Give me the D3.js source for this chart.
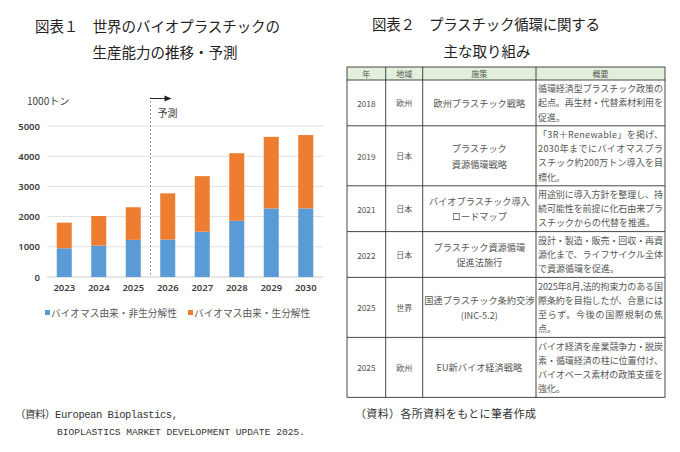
<!DOCTYPE html>
<html><head><meta charset="utf-8">
<script src="https://cdn.jsdelivr.net/npm/d3@7"></script>
<style>body{margin:0;background:#fff} svg{display:block}</style>
</head><body>
<svg id="c" width="680" height="452"></svg>
<script>
// ---- Chart data ----
const years = ["2023","2024","2025","2026","2027","2028","2029","2030"];
const nonBiodegradable = [950,1040,1230,1240,1500,1860,2270,2270];
const biodegradable = [850,980,1080,1530,1840,2240,2370,2430];
const yTicks = [0,1000,2000,3000,4000,5000];
const seriesNames = ["バイオマス由来・非生分解性","バイオマス由来・生分解性"];
const seriesColors = ["#5b9bd5","#ed7d31"];
const forecastStart = "2026";
const unitLabel = "1000トン";
const forecastLabel = "予測";

// ---- Table data ----
const tableHeaders = ["年","地域","施策","概要"];
const tableYears = ["2018","2019","2021","2022","2025","2025"];
const tableRegions = ["欧州","日本","日本","日本","世界","欧州"];
const tablePolicies = [
  ["欧州プラスチック戦略"],
  ["プラスチック","資源循環戦略"],
  ["バイオプラスチック導入","ロードマップ"],
  ["プラスチック資源循環","促進法施行"],
  ["国連プラスチック条約交渉","(INC-5.2)"],
  ["EU新バイオ経済戦略"]
];
const tableSummaries = [
  ["循環経済型プラスチック政策の","起点。再生材・代替素材利用を","促進。"],
  ["「3R＋Renewable」を掲げ、","2030年までにバイオマスプラ","スチック約200万トン導入を目","標化。"],
  ["用途別に導入方針を整理し、持","続可能性を前提に化石由来プラ","スチックからの代替を推進。"],
  ["設計・製造・販売・回収・再資","源化まで、ライフサイクル全体","で資源循環を促進。"],
  ["2025年8月,法的拘束力のある国","際条約を目指したが、合意には","至らず。今後の国際規制の焦","点。"],
  ["バイオ経済を産業競争力・脱炭","素・循環経済の柱に位置付け、","バイオベース素材の政策支援を","強化。"]
];

const titleLeft = ["図表１　世界のバイオプラスチックの","生産能力の推移・予測"];
const titleRight = ["図表２　プラスチック循環に関する","主な取り組み"];
const sourceLeft = ["（資料）European Bioplastics,","BIOPLASTICS MARKET DEVELOPMENT UPDATE 2025."];
const sourceRight = "（資料）各所資料をもとに筆者作成";

const svg = d3.select("#c");
const JP = "'Noto Sans CJK JP', 'Noto Sans', sans-serif";
const MONO = "'Liberation Mono', 'Noto Sans CJK JP', monospace";

// ---- Titles ----
svg.append("text").attr("x",35).attr("y",32).text(titleLeft[0])
  .attr("font-family",JP).attr("font-size",14.5).attr("fill","#222").attr("textLength",245);
svg.append("text").attr("x",165).attr("y",58).attr("text-anchor","middle").text(titleLeft[1])
  .attr("font-family",JP).attr("font-size",14.5).attr("fill","#222");
svg.append("text").attr("x",372).attr("y",30).text(titleRight[0])
  .attr("font-family",JP).attr("font-size",14.5).attr("fill","#222").attr("textLength",228);
svg.append("text").attr("x",487).attr("y",57).attr("text-anchor","middle").text(titleRight[1])
  .attr("font-family",JP).attr("font-size",14.5).attr("fill","#222");

// ---- Chart ----
const x = d3.scaleBand().domain(years).range([47,323]).paddingInner(0.565).paddingOuter(0.2825);
const y = d3.scaleLinear().domain([0,5000]).range([277,126]);

const g = svg.append("g");
g.selectAll("line.grid").data(yTicks).join("line")
  .attr("x1",47).attr("x2",323)
  .attr("y1",d=>y(d)).attr("y2",d=>y(d))
  .attr("stroke",d=>d===0?"#bfbfbf":"#d9d9d9").attr("stroke-width",0.8);

const yAxis = d3.axisLeft(y).tickValues(yTicks).tickSize(0).tickPadding(0).tickFormat(d3.format("d"));
const ya = g.append("g").attr("transform","translate(40,0)").call(yAxis);
ya.select(".domain").remove();
ya.selectAll("text").attr("font-family","'Noto Sans', sans-serif").attr("font-size",9.5)
  .attr("font-weight",600).attr("fill","#404040");

const xAxis = d3.axisBottom(x).tickSize(0).tickPadding(0);
const xa = g.append("g").attr("transform","translate(0,284)").call(xAxis);
xa.select(".domain").remove();
xa.selectAll("text").attr("font-family","'Noto Sans', sans-serif").attr("font-size",9.5)
  .attr("font-weight",600).attr("fill","#404040");

const rows = years.map((yr,i)=>({year:yr, a:nonBiodegradable[i], b:biodegradable[i]}));
const stack = d3.stack().keys(["a","b"])(rows);
g.selectAll("g.series").data(stack).join("g").attr("fill",(d,i)=>seriesColors[i])
  .selectAll("rect").data(d=>d).join("rect")
  .attr("x",d=>x(d.data.year)).attr("width",x.bandwidth())
  .attr("y",d=>y(d[1])).attr("height",d=>y(d[0])-y(d[1]));

// forecast marker
const fx = x(forecastStart) - (x.step()-x.bandwidth())/2;
g.append("line").attr("x1",fx).attr("x2",fx).attr("y1",97).attr("y2",277)
  .attr("stroke","#8c8c8c").attr("stroke-width",0.9).attr("stroke-dasharray","2,2");
g.append("line").attr("x1",fx).attr("x2",fx+15).attr("y1",98.5).attr("y2",98.5)
  .attr("stroke","#222").attr("stroke-width",1);
g.append("path").attr("d",`M${fx+14},95.5 L${fx+21},98.5 L${fx+14},101.5 Z`).attr("fill","#222");
g.append("text").attr("x",fx+7).attr("y",117).text(forecastLabel)
  .attr("font-family",JP).attr("font-size",10).attr("fill","#404040");
g.append("text").attr("x",27).attr("y",105).text(unitLabel)
  .attr("font-family",JP).attr("font-size",10).attr("fill","#404040");

// legend
const lg = g.append("g");
const legendX = [45,188];
seriesNames.forEach((n,i)=>{
  lg.append("rect").attr("x",legendX[i]).attr("y",310).attr("width",5).attr("height",5).attr("fill",seriesColors[i]);
  lg.append("text").attr("x",legendX[i]+6).attr("y",316.5).text(n)
    .attr("font-family",JP).attr("font-size",9.7).attr("fill","#595959");
});

// ---- Table ----
const colX = [347,385.7,422.7,536,665];
const headTop = 67, headBottom = 80;
const lineH = 14.2;
const t = svg.append("g");
t.append("rect").attr("x",colX[0]).attr("y",headTop).attr("width",colX[4]-colX[0]).attr("height",headBottom-headTop)
  .attr("fill","#e2efda");
tableHeaders.forEach((h,i)=>{
  t.append("text").attr("x",(colX[i]+colX[i+1])/2).attr("y",(headTop+headBottom)/2)
    .attr("text-anchor","middle").attr("dominant-baseline","central").text(h)
    .attr("font-family",JP).attr("font-size",8).attr("fill","#555");
});
let rowY = headBottom;
const rowBottoms = [];
tableSummaries.forEach((lines,r)=>{
  const h = lines.length*lineH + 3.2;
  const cy = rowY + h/2;
  t.append("text").attr("x",(colX[0]+colX[1])/2).attr("y",cy).attr("text-anchor","middle")
    .attr("dominant-baseline","central").text(tableYears[r])
    .attr("font-family",JP).attr("font-size",8.3).attr("fill","#555");
  t.append("text").attr("x",(colX[1]+colX[2])/2).attr("y",cy).attr("text-anchor","middle")
    .attr("dominant-baseline","central").text(tableRegions[r])
    .attr("font-family",JP).attr("font-size",8).attr("fill","#555");
  const pl = tablePolicies[r];
  pl.forEach((s,k)=>{
    t.append("text").attr("x",(colX[2]+colX[3])/2).attr("y",cy + (k-(pl.length-1)/2)*15.5)
      .attr("text-anchor","middle").attr("dominant-baseline","central").text(s)
      .attr("font-family",JP).attr("font-size",9.2).attr("fill","#555");
  });
  lines.forEach((s,k)=>{
    const tx = t.append("text").attr("x",colX[3]+2).attr("y",cy + (k-(lines.length-1)/2)*lineH)
      .attr("dominant-baseline","central").text(s)
      .attr("font-family",JP).attr("font-size",9).attr("fill","#555");
    if (k < lines.length-1) tx.attr("textLength",colX[4]-colX[3]-4).attr("lengthAdjust","spacing");
  });
  rowY += h;
  rowBottoms.push(rowY);
});
// grid lines
const hLines = [headTop, headBottom].concat(rowBottoms);
t.selectAll("line.h").data(hLines).join("line")
  .attr("x1",colX[0]).attr("x2",colX[4]).attr("y1",d=>d).attr("y2",d=>d)
  .attr("stroke","#333").attr("stroke-width",0.9);
t.selectAll("line.v").data(colX).join("line")
  .attr("x1",d=>d).attr("x2",d=>d).attr("y1",headTop).attr("y2",rowY)
  .attr("stroke","#333").attr("stroke-width",0.9);

// ---- Sources ----
svg.append("text").attr("x",15).attr("y",418).text(sourceLeft[0])
  .attr("font-family",MONO).attr("font-size",10.5).attr("fill","#333").attr("textLength",163);
svg.append("text").attr("x",57).attr("y",435).text(sourceLeft[1])
  .attr("font-family",MONO).attr("font-size",9.6).attr("fill","#333").attr("textLength",248);
svg.append("text").attr("x",355).attr("y",418).text(sourceRight)
  .attr("font-family",JP).attr("font-size",11).attr("fill","#333").attr("textLength",181);
</script>
</body></html>
